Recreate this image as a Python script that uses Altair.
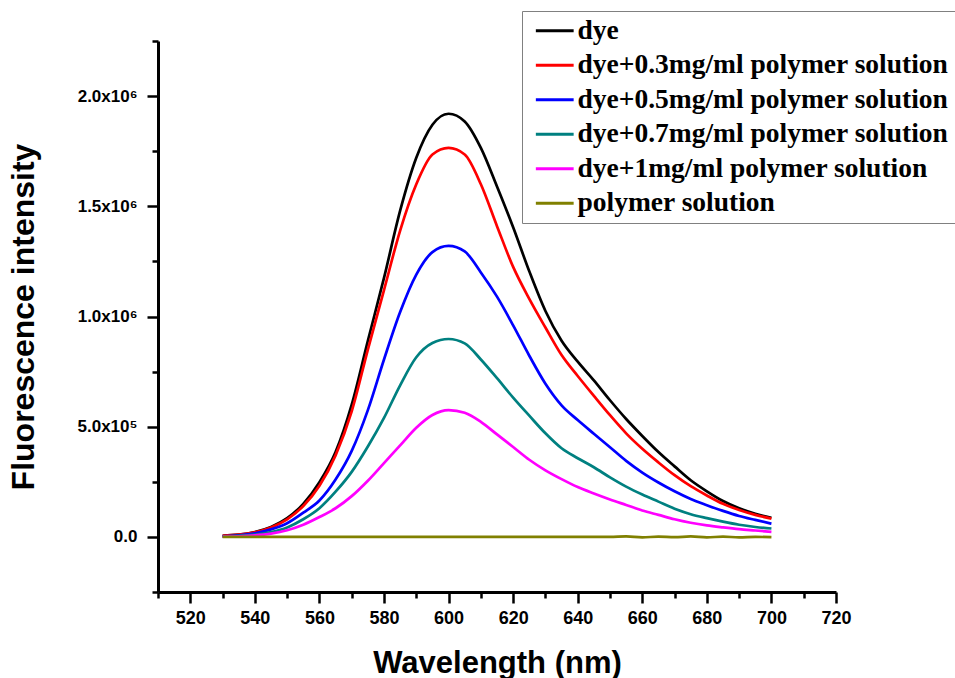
import altair as alt
import pandas as pd

# Wavelength grid (nm)
wavelength = [530, 535, 540, 545, 550, 555, 560, 565, 570, 575, 580, 585, 590, 595, 600,
              605, 610, 615, 620, 625, 630, 635, 640, 645, 650, 655, 660, 665, 670, 675,
              680, 685, 690, 695, 700]

# Fluorescence intensity, in units of 10^6
dye = [0.005, 0.010, 0.022, 0.045, 0.085, 0.150, 0.248, 0.385, 0.600, 0.890, 1.175, 1.480,
       1.720, 1.870, 1.920, 1.885, 1.765, 1.590, 1.405, 1.205, 1.025, 0.890, 0.795, 0.710,
       0.620, 0.535, 0.458, 0.385, 0.320, 0.257, 0.207, 0.163, 0.130, 0.105, 0.087]
dye_03 = [0.005, 0.010, 0.021, 0.043, 0.080, 0.140, 0.232, 0.370, 0.570, 0.850, 1.120, 1.390,
          1.600, 1.735, 1.765, 1.735, 1.600, 1.410, 1.225, 1.080, 0.950, 0.825, 0.730, 0.640,
          0.552, 0.470, 0.400, 0.338, 0.280, 0.230, 0.188, 0.150, 0.122, 0.100, 0.083]
dye_05 = [0.003, 0.007, 0.016, 0.034, 0.062, 0.110, 0.165, 0.260, 0.390, 0.575, 0.805, 1.020,
          1.190, 1.292, 1.320, 1.295, 1.200, 1.090, 0.960, 0.822, 0.695, 0.597, 0.530, 0.468,
          0.407, 0.345, 0.292, 0.247, 0.207, 0.172, 0.144, 0.118, 0.095, 0.077, 0.060]
dye_07 = [0.002, 0.005, 0.010, 0.022, 0.043, 0.080, 0.130, 0.205, 0.295, 0.410, 0.540, 0.688,
          0.815, 0.880, 0.898, 0.878, 0.805, 0.720, 0.632, 0.550, 0.470, 0.402, 0.357, 0.316,
          0.270, 0.228, 0.192, 0.160, 0.128, 0.103, 0.085, 0.069, 0.055, 0.045, 0.038]
dye_1 = [0.001, 0.003, 0.007, 0.015, 0.030, 0.055, 0.090, 0.130, 0.185, 0.255, 0.335, 0.415,
         0.495, 0.553, 0.575, 0.563, 0.522, 0.465, 0.408, 0.350, 0.302, 0.262, 0.226, 0.197,
         0.170, 0.145, 0.120, 0.100, 0.080, 0.064, 0.052, 0.043, 0.035, 0.029, 0.023]
polymer = [0.000, 0.000, 0.000, 0.000, 0.000, 0.000, 0.000, 0.000, 0.000, 0.000, 0.000, 0.000,
           0.000, 0.000, 0.000, 0.000, 0.000, 0.000, 0.000, 0.000, 0.000, 0.000, 0.000, 0.000,
           0.000, 0.002, -0.002, 0.001, -0.001, 0.002, -0.002, 0.001, -0.002, 0.000, -0.001]

series_names = ["dye", "dye+0.3mg/ml polymer solution", "dye+0.5mg/ml polymer solution",
                "dye+0.7mg/ml polymer solution", "dye+1mg/ml polymer solution", "polymer solution"]
series_colors = ["#000000", "#ff0000", "#0000ff", "#008080", "#ff00ff", "#808000"]
series_values = [dye, dye_03, dye_05, dye_07, dye_1, polymer]

x_ticks = [510, 520, 530, 540, 550, 560, 570, 580, 590, 600, 610, 620, 630, 640, 650, 660,
           670, 680, 690, 700, 710, 720]
y_ticks = [-250000, 0, 250000, 500000, 750000, 1000000, 1250000, 1500000, 1750000, 2000000, 2250000]

rows = []
for order, (name, vals) in enumerate(zip(series_names, series_values)):
    for w, v in zip(wavelength, vals):
        rows.append({"wl": w, "val": v * 1e6, "series": name, "k": order})
df = pd.DataFrame(rows)

axis_font = "Liberation Sans"

x_axis = alt.Axis(
    values=x_ticks,
    labelExpr="datum.value % 20 === 0 ? datum.label : ''",
    labelOverlap=False,
    labelFont=axis_font, labelFontSize=18, labelFontWeight="bold", labelColor="black",
    labelPadding=6, labelFlush=False,
    tickColor="black", tickWidth=2.5,
    tickSize={"condition": {"test": "datum.value % 20 === 0", "value": 11}, "value": 6},
    domainColor="black", domainWidth=3, grid=False,
    title="Wavelength (nm)", titleFont=axis_font, titleFontSize=31, titleFontWeight="bold",
    titleColor="black", titleX=339, titleY=80, titleBaseline="alphabetic", titleAlign="center",
)

y_axis = alt.Axis(
    values=y_ticks,
    labelExpr=("datum.value === 0 ? '0.0' : (datum.value % 500000 !== 0 ? '' : "
               "(datum.value === 500000 ? '5.0x10\u2075' : format(datum.value/1000000, '.1f') + 'x10\u2076'))"),
    labelOverlap=False,
    labelFont=axis_font, labelFontSize=17, labelFontWeight="bold", labelColor="black",
    labelPadding=10, labelFlush=False,
    tickColor="black", tickWidth=2.5,
    tickSize={"condition": {"test": "datum.value % 500000 === 0", "value": 11}, "value": 6},
    domainColor="black", domainWidth=3, grid=False,
    title="Fluorescence intensity", titleFont=axis_font, titleFontSize=32, titleFontWeight="bold",
    titleColor="black", titleX=-125, titleY=275.5, titleAngle=-90, titleBaseline="alphabetic",
    titleAlign="center",
)

legend = alt.Legend(
    title=None, orient="none", legendX=364, legendY=-30, direction="vertical",
    symbolType="M-1.8,0H1.8", symbolSize=441, symbolStrokeWidth=3,
    symbolOffset=13, labelOffset=9,
    labelFont="Liberation Serif", labelFontSize=27.5, labelFontWeight="bold", labelColor="black",
    labelLimit=0, rowPadding=5.5, padding=6,
    strokeColor="#808080", fillColor="white",
)

chart = alt.Chart(df).mark_line(strokeWidth=2.7, interpolate="monotone").encode(
    x=alt.X("wl:Q", scale=alt.Scale(domain=[510, 720], nice=False, zero=False), axis=x_axis),
    y=alt.Y("val:Q", scale=alt.Scale(domain=[-250000, 2250000], nice=False, zero=False), axis=y_axis),
    color=alt.Color("series:N", scale=alt.Scale(domain=series_names, range=series_colors),
                    legend=legend, sort=series_names),
    order=alt.Order("wl:Q"),
).properties(
    width=678, height=551,
    autosize=alt.AutoSizeParams(type="none"),
    padding={"left": 158, "top": 41, "right": 119, "bottom": 86},
    background="white",
).configure_view(stroke=None)

chart.save("out.html", embed_options={"renderer": "svg", "actions": False})
